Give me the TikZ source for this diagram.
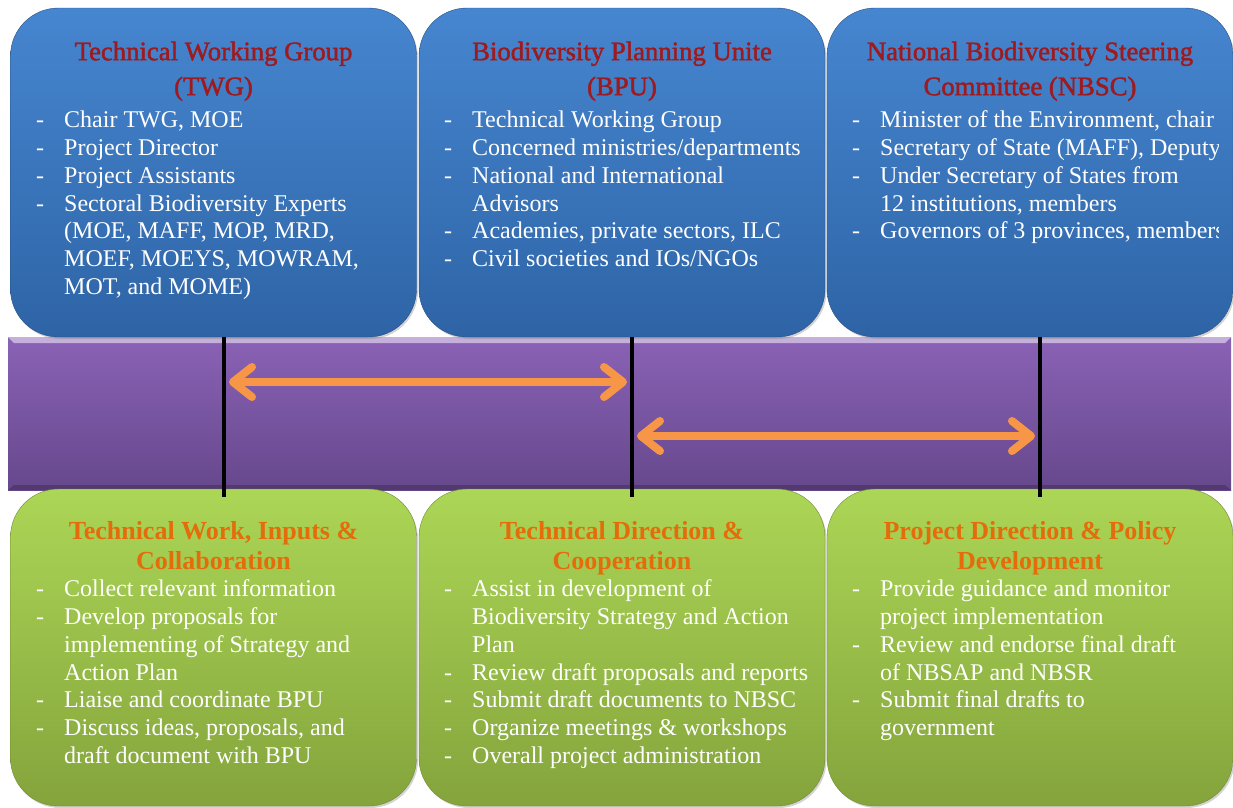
\documentclass[tikz,border=0pt]{standalone}
\usepackage{fontspec}
\setmainfont{Liberation Serif}
\newfontfamily\headfont{Liberation Serif}[FakeBold=1.6]
\usetikzlibrary{arrows.meta,shadows}

\definecolor{boxblue}{RGB}{70,134,208}
\definecolor{boxbluedark}{RGB}{46,100,166}
\definecolor{barpurple}{RGB}{138,98,182}
\definecolor{barpurpledark}{RGB}{102,72,140}
\definecolor{boxgreen}{RGB}{172,214,86}
\definecolor{boxgreendark}{RGB}{132,164,60}
\definecolor{arroworange}{RGB}{247,150,70}
\definecolor{headred}{RGB}{158,26,30}
\definecolor{headorange}{RGB}{228,108,10}

\newcommand{\itm}[1]{\makebox[28pt][l]{-}#1}
\newcommand{\cnt}[1]{\hspace*{28pt}#1}
\newcommand{\tp}{\rule{0pt}{22pt}}

\tikzset{
  panel/.style={rounded corners=48pt, minimum width=406pt, inner sep=0pt,
    drop shadow={opacity=0.35, shadow xshift=1.5pt, shadow yshift=-2pt}},
  bluepanel/.style={panel, draw=boxbluedark!80!black, top color=boxblue, bottom color=boxbluedark, minimum height=329pt},
  greenpanel/.style={panel, draw=boxgreendark!85!black, top color=boxgreen, bottom color=boxgreendark, minimum height=317pt},
  bluehead/.style={anchor=north, inner sep=0pt, align=center, text=headred, font=\headfont\fontsize{26.7}{35}\selectfont},
  greenhead/.style={anchor=north, inner sep=0pt, align=center, text=headorange, font=\bfseries\fontsize{26}{30}\selectfont},
  body/.style={anchor=north west, inner sep=0pt, align=left, text=white, font=\fontsize{24}{27.7}\selectfont},
  divider/.style={line width=4pt, black},
  link/.style={arroworange, line width=8pt, line cap=round,
    {Straight Barb[length=19pt,width=30pt,line cap=round,line join=round]}-{Straight Barb[length=19pt,width=30pt,line cap=round,line join=round]}}
}

\begin{document}
\begin{tikzpicture}[x=1pt, y=-1pt]
    \useasboundingbox (0,0) rectangle (1233,807);

    % purple band
    \fill[top color=barpurple, bottom color=barpurpledark] (8,337) rectangle (1231,490);
    \fill[barpurple!50!white] (8,337) -- (1231,337) -- (1225,343) -- (14,343) -- cycle;
    \fill[barpurpledark!80!black] (8,490) -- (1231,490) -- (1225,485) -- (14,485) -- cycle;

    % upper panels
    \node[bluepanel] (twg) at (213.5,172.5) {};
    \node[bluepanel] (bpu) at (622,172.5) {};
    \node[bluepanel] (nbsc) at (1030,172.5) {};

    % lower panels
    \node[greenpanel] (work) at (213.5,647.5) {};
    \node[greenpanel] (direct) at (622,647.5) {};
    \node[greenpanel] (policy) at (1030,647.5) {};

    % dividers
    \coordinate (d1top) at (224,337);  \coordinate (d1bot) at (224,497);
    \coordinate (d2top) at (632,337);  \coordinate (d2bot) at (632,497);
    \coordinate (d3top) at (1040,337); \coordinate (d3bot) at (1040,497);
    \draw[divider] (d1top) -- (d1bot);
    \draw[divider] (d2top) -- (d2bot);
    \draw[divider] (d3top) -- (d3bot);

    \coordinate (a1l) at (229,382);  \coordinate (a1r) at (627,382);
    \coordinate (a2l) at (637,436);  \coordinate (a2r) at (1035,436);
    \draw[link] (a1l) -- (a1r);
    \draw[link] (a2l) -- (a2r);

    % headings
    \node[bluehead] (twghead) at (213.5,36) {\rule{0pt}{24pt}Technical Working Group\\(TWG)};
    \node[bluehead] (bpuhead) at (622,36) {\rule{0pt}{24pt}Biodiversity Planning Unite\\(BPU)};
    \node[bluehead] (nbschead) at (1030,36) {\rule{0pt}{24pt}National Biodiversity Steering\\Committee (NBSC)};

    \node[greenhead] (workhead) at (213.5,517.3) {\tp Technical Work, Inputs \&\\Collaboration};
    \node[greenhead] (directhead) at (622,517.3) {\tp Technical Direction \&\\Cooperation};
    \node[greenhead] (policyhead) at (1030,517.3) {\tp Project Direction \& Policy\\Development};

    % lists
    \node[body] (twgbody) at (36,105.7) {\tp\itm{Chair TWG, MOE}\\\itm{Project Director}\\\itm{Project Assistants}\\
      \itm{Sectoral Biodiversity Experts}\\\cnt{(MOE, MAFF, MOP, MRD,}\\\cnt{MOEF, MOEYS, MOWRAM,}\\\cnt{MOT, and MOME)}};
    \node[body] (bpubody) at (444,105.7) {\tp\itm{Technical Working Group}\\\itm{Concerned ministries/departments}\\
      \itm{National and International}\\\cnt{Advisors}\\\itm{Academies, private sectors, ILC}\\\itm{Civil societies and IOs/NGOs}};
    \begin{scope}
      \clip (827,8) rectangle (1218,337);
      \node[body] (nbscbody) at (852,105.7) {\tp\itm{Minister of the Environment, chair}\\\itm{Secretary of State (MAFF), Deputy}\\
        \itm{Under Secretary of States from}\\\cnt{12 institutions, members}\\\itm{Governors of 3 provinces, members}};
    \end{scope}

    \node[body] (workbody) at (36,574.7) {\tp\itm{Collect relevant information}\\\itm{Develop proposals for}\\
      \cnt{implementing of Strategy and}\\\cnt{Action Plan}\\\itm{Liaise and coordinate BPU}\\
      \itm{Discuss ideas, proposals, and}\\\cnt{draft document with BPU}};
    \node[body] (directbody) at (444,574.7) {\tp\itm{Assist in development of}\\\cnt{Biodiversity Strategy and Action}\\
      \cnt{Plan}\\\itm{Review draft proposals and reports}\\\itm{Submit draft documents to NBSC}\\
      \itm{Organize meetings \& workshops}\\\itm{Overall project administration}};
    \node[body] (policybody) at (852,574.7) {\tp\itm{Provide guidance and monitor}\\\cnt{project implementation}\\
      \itm{Review and endorse final draft}\\\cnt{of NBSAP and NBSR}\\\itm{Submit final drafts to}\\\cnt{government}};

\end{tikzpicture}
\end{document}
